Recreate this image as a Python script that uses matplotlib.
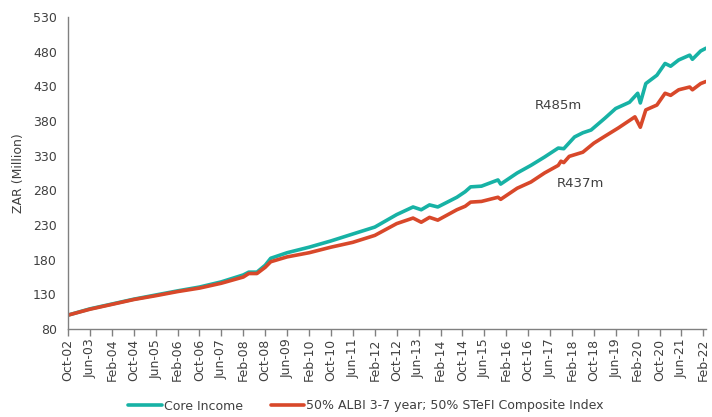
import matplotlib
matplotlib.use("Agg")
import matplotlib.pyplot as plt
import pandas as pd

core_dates = ["Oct-02","Jun-03","Feb-04","Oct-04","Jun-05","Feb-06","Oct-06","Jun-07","Feb-08",
              "Apr-08","Jul-08","Oct-08","Dec-08","Jun-09","Feb-10","Oct-10","Jun-11","Feb-12","Oct-12",
              "Apr-13","Jul-13","Oct-13","Jan-14","Aug-14","Nov-14","Jan-15","May-15","Nov-15","Dec-15",
              "Jun-16","Nov-16","Apr-17","Sep-17","Nov-17","Mar-18","Jun-18","Sep-18","Feb-19","Jun-19",
              "Nov-19","Feb-20","Mar-20","May-20","Sep-20","Dec-20","Feb-21","May-21","Sep-21","Oct-21",
              "Jan-22","Mar-22"]
core_values = [100,109,116,123,129,135,140.5,148,158,
               162,162,172,182,190,198,207,217,227,245,
               256,252,259,256,270,278,285,286,295,289,
               305,316,328,341,340,357,363,367,384,398,
               407,420,406,434,446,463,459,468,475,469,
               481,485]

bench_dates = ["Oct-02","Jun-03","Feb-04","Oct-04","Jun-05","Feb-06","Oct-06","Jun-07","Feb-08",
               "Apr-08","Jul-08","Oct-08","Dec-08","Jun-09","Feb-10","Oct-10","Jun-11","Feb-12","Oct-12",
               "Apr-13","Jul-13","Oct-13","Jan-14","Aug-14","Nov-14","Jan-15","May-15","Nov-15","Dec-15",
               "Jun-16","Nov-16","Apr-17","Sep-17","Oct-17","Nov-17","Jan-18","Jun-18","Oct-18","Feb-19",
               "Jul-19","Jan-20","Mar-20","May-20","Sep-20","Dec-20","Feb-21","May-21","Sep-21","Oct-21",
               "Jan-22","Mar-22"]
bench_values = [100,108.5,115.5,122.5,128,134,139,146,155,
                160,160,169,177,184,190,198,205,215,232,
                240,234,241,237,252,257,263,264,270,267,
                283,292,305,316,322,320,329,335,348,358,
                370,386,371,396,403,420,417,425,429,425,
                434,437]

tick_labels = ["Oct-02","Jun-03","Feb-04","Oct-04","Jun-05","Feb-06","Oct-06","Jun-07","Feb-08",
               "Oct-08","Jun-09","Feb-10","Oct-10","Jun-11","Feb-12","Oct-12","Jun-13","Feb-14",
               "Oct-14","Jun-15","Feb-16","Oct-16","Jun-17","Feb-18","Oct-18","Jun-19","Feb-20",
               "Oct-20","Jun-21","Feb-22"]
y_ticks = [80,130,180,230,280,330,380,430,480,530]

series_names = ["Core Income", "50% ALBI 3-7 year; 50% STeFI Composite Index"]
end_labels = ["R485m", "R437m"]

def to_dt(lst):
    return pd.to_datetime(lst, format="%b-%y")

plt.rcParams['font.family'] = ['DejaVu Sans']
fig = plt.figure(figsize=(7.12, 4.17), dpi=100)
ax = fig.add_axes([68/712, (417-329)/417, (706-68)/712, (329-17)/417])

teal = "#17B2A5"
red = "#D8482A"
ax.plot(to_dt(core_dates), core_values, color=teal, lw=2.6, label=series_names[0], solid_capstyle='round')
ax.plot(to_dt(bench_dates), bench_values, color=red, lw=2.6, label=series_names[1], solid_capstyle='round')

ax.set_xlim(to_dt(["Oct-02"])[0], to_dt(["Mar-22"])[0])
ax.set_ylim(80, 530)
ax.set_yticks(y_ticks)
ax.set_xticks(to_dt(tick_labels))
ax.set_xticklabels(tick_labels, rotation=90)

for s in ["top", "right"]:
    ax.spines[s].set_visible(False)
for s in ["left", "bottom"]:
    ax.spines[s].set_color("#808080")
    ax.spines[s].set_linewidth(1.0)
ax.tick_params(axis='y', length=0, pad=8, labelsize=9, labelcolor="#404040")
ax.tick_params(axis='x', length=5, width=1, color="#808080", pad=2, labelsize=9, labelcolor="#404040")

ax.set_ylabel("ZAR (Million)", fontsize=9, color="#404040", labelpad=6)

ax.text(to_dt(["Sep-17"])[0], 403, end_labels[0], fontsize=9.5, color="#404040", ha="center", va="center")
ax.text(to_dt(["May-18"])[0], 290, end_labels[1], fontsize=9.5, color="#404040", ha="center", va="center")

fig.legend(loc="center", bbox_to_anchor=(366/712, 1-406/417), ncol=2, frameon=False,
           fontsize=9, handlelength=2.7, columnspacing=2.2, handletextpad=0.15,
           labelcolor="#404040")

fig.savefig("out.png", dpi=100)
